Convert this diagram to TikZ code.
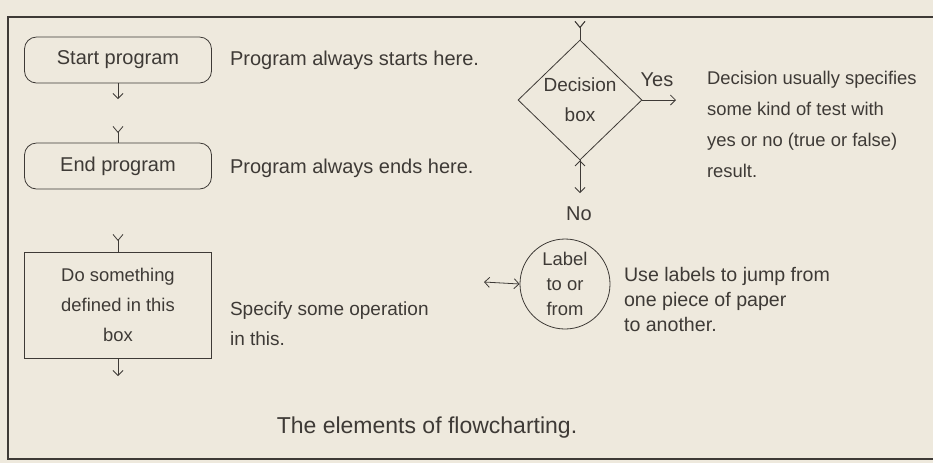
\documentclass[tikz,border=0pt]{standalone}
\usepackage{fontspec}
\setmainfont{Liberation Sans}
\usepackage{tikz}
\usetikzlibrary{arrows.meta,shapes.geometric}

\definecolor{paper}{RGB}{238,233,221}
\definecolor{ink}{RGB}{62,58,54}

\begin{document}
\begin{tikzpicture}[x=0.5pt,y=-0.5pt,
  every node/.style={text=ink,font=\fontsize{10}{12}\selectfont},
  terminal/.style={rectangle,rounded corners=6pt,draw=ink,thin,minimum width=93.5pt,minimum height=23pt},
  process/.style={rectangle,draw=ink,thin,minimum width=93.5pt,minimum height=53pt,align=center,font=\fontsize{9.2}{15}\selectfont},
  decision/.style={diamond,draw=ink,thin,minimum width=62pt,minimum height=60pt,inner sep=0pt,align=center,font=\fontsize{9.5}{15}\selectfont},
  connector/.style={circle,draw=ink,thin,minimum size=45pt,inner sep=0pt,align=center,font=\fontsize{9.2}{12.5}\selectfont},
  note/.style={anchor=west,align=left},
  flow/.style={draw=ink,thin,-{Straight Barb[length=2.5pt,width=5pt]}},
  entry/.style={draw=ink,thin,{Straight Barb[reversed,length=3pt,width=5pt]}-}
]
  \fill[paper] (0,0) rectangle (933,463);
  \useasboundingbox (0,0) rectangle (933,463);
  \draw[ink,line width=1.3pt] (933,17) -- (8,17) -- (8,459) -- (933,459);

  \node at (118,60) (start) [terminal] {Start program};
  \node at (118,166) (end) [terminal] {End program};
  \node at (118,305) (task) [process] {Do something\\defined in this\\box};
  \node at (580,100) (test) [decision] {Decision\\box};
  \node at (565,284) (jump) [connector] {Label\\to or\\from};

  \coordinate (startout) at (118,99);
  \coordinate (endin) at (118,126);
  \coordinate (taskin) at (118,234);
  \coordinate (taskout) at (118,376);
  \coordinate (testin) at (580,21);
  \coordinate (yesout) at (676,100);
  \coordinate (noout) at (580,193);
  \coordinate (jumpside) at (484,282);

  \node at (657,80) (yes) {Yes};
  \node at (579,214) (no) {No};

  \node at (223,60) (startnote) [note] {Program always starts here.};
  \node at (223,168) (endnote) [note] {Program always ends here.};
  \node at (223,324) (tasknote) [note,font=\fontsize{9.5}{15}\selectfont] {Specify some operation\\in this.};
  \node at (700,124) (testnote) [note,font=\fontsize{9.2}{15.5}\selectfont] {Decision usually specifies\\some kind of test with\\yes or no (true or false)\\result.};
  \node at (617,299) (jumpnote) [note,font=\fontsize{9.8}{12.5}\selectfont] {Use labels to jump from\\one piece of paper\\to another.};

  \node at (427,428) (caption) [font=\fontsize{11.5}{14}\selectfont] {The elements of flowcharting.};

  \path[flow]
        (start) edge (startout)
        (task) edge (taskout)
        (test.east) edge (yesout)
        (test.south) edge (noout)
        ;
  \path[entry]
        (endin) edge (end)
        (taskin) edge (task)
        (testin) edge (test.north)
        ;
  \draw[ink,thin,{Straight Barb[length=2.5pt,width=5pt]}-{Straight Barb[length=2.5pt,width=5pt]}] (jumpside) -- (jump.west);
\end{tikzpicture}
\end{document}
